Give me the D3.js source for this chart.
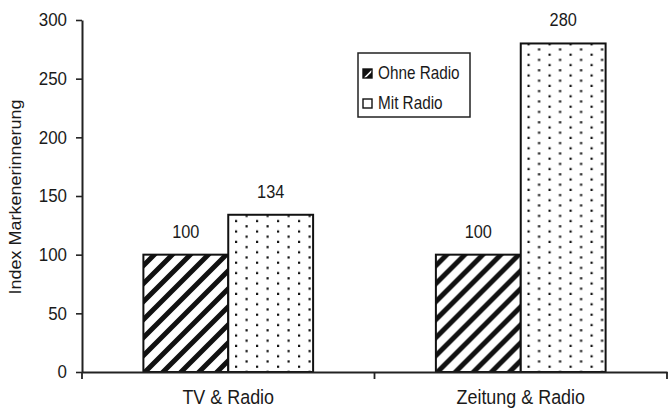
<!DOCTYPE html>
<html>
<head>
<meta charset="utf-8">
<script src="https://cdn.jsdelivr.net/npm/d3@7"></script>
<style>
  html, body { margin: 0; padding: 0; background: #fff; }
  svg text { font-family: "Liberation Sans", Arial, sans-serif; fill: #1a1a1a; }
</style>
</head>
<body>
<svg id="chart" width="668" height="417"></svg>
<script>
// Brand recall index, with and without radio in the media mix
const categories = ["TV & Radio", "Zeitung & Radio"];
const seriesNames = ["Ohne Radio", "Mit Radio"];
const ohneRadio = [100, 100];
const mitRadio = [134, 280];
const yTicks = [0, 50, 100, 150, 200, 250, 300];
const yTitle = "Index Markenerinnerung";

const seriesValues = [ohneRadio, mitRadio];
const fills = ["url(#hatch)", "url(#dots)"];

const svg = d3.select("#chart");
const defs = svg.append("defs");

// diagonal hatching
const hatch = defs.append("pattern")
  .attr("id", "hatch").attr("patternUnits", "userSpaceOnUse")
  .attr("width", 18).attr("height", 18).attr("x", 1).attr("y", 2);
hatch.append("rect").attr("width", 18).attr("height", 18).attr("fill", "#fff");
hatch.append("path")
  .attr("d", "M-4.5,4.5L4.5,-4.5M0,18L18,0M13.5,22.5L22.5,13.5")
  .attr("stroke", "#111").attr("stroke-width", 5);

const hatchSmall = defs.append("pattern")
  .attr("id", "hatchSmall").attr("patternUnits", "userSpaceOnUse")
  .attr("width", 9).attr("height", 9).attr("x", 363).attr("y", 69);
hatchSmall.append("rect").attr("width", 9).attr("height", 9).attr("fill", "#111");
hatchSmall.append("path").attr("d", "M1.5,9L9,1.5").attr("stroke", "#fff").attr("stroke-width", 1.6);

// staggered dot screen
const dots = defs.append("pattern")
  .attr("id", "dots").attr("patternUnits", "userSpaceOnUse")
  .attr("width", 21).attr("height", 10.4).attr("x", 233).attr("y", 0);
dots.append("rect").attr("width", 21).attr("height", 10.4).attr("fill", "#fff");
dots.append("rect").attr("x", 4).attr("y", 1.6).attr("width", 2.2).attr("height", 2.2).attr("fill", "#111");
dots.append("rect").attr("x", 14.5).attr("y", 6.8).attr("width", 2.2).attr("height", 2.2).attr("fill", "#111");

const x0 = d3.scaleBand().domain(categories).range([82, 667]).paddingInner(0).paddingOuter(0);
const x1 = d3.scaleBand().domain(seriesNames).range([0, x0.bandwidth()])
  .paddingInner(0).paddingOuter(0.7235);
const y = d3.scaleLinear().domain([0, 300]).range([372, 20]);

// bars
const groups = svg.append("g").selectAll("g")
  .data(categories).join("g")
  .attr("transform", d => `translate(${x0(d)},0)`);

const barData = (c, ci) => seriesNames.map((s, si) => ({ s, si, v: seriesValues[si][ci] }));

groups.selectAll("rect")
  .data(barData)
  .join("rect")
  .attr("x", d => x1(d.s))
  .attr("y", d => y(d.v))
  .attr("width", x1.bandwidth())
  .attr("height", d => y(0) - y(d.v))
  .attr("fill", d => fills[d.si])
  .attr("stroke", "#111").attr("stroke-width", 2);

// value labels (condensed type)
groups.selectAll("text.val")
  .data(barData)
  .join("text").attr("class", "val")
  .attr("transform", d => `translate(${x1(d.s) + x1.bandwidth() / 2},${y(d.v) - 17}) scale(0.86,1)`)
  .attr("text-anchor", "middle")
  .style("font-size", "19px")
  .text(d => d.v);

// y axis
const yAxis = svg.append("g").attr("transform", "translate(82,0)")
  .call(d3.axisLeft(y).tickValues(yTicks).tickSize(6).tickSizeOuter(0).tickPadding(9));
yAxis.select(".domain").attr("stroke", "#222").attr("stroke-width", 2);
yAxis.selectAll(".tick line").attr("stroke", "#222").attr("stroke-width", 1.6);
yAxis.selectAll(".tick text").style("font-size", "18px")
  .attr("transform", "translate(-15,0) scale(0.94,1)").attr("x", 0);

// x axis
const xAxis = svg.append("g").attr("transform", "translate(0,372)")
  .call(d3.axisBottom(x0).tickSize(0).tickSizeOuter(0).tickPadding(18));
xAxis.select(".domain").attr("stroke", "#222").attr("stroke-width", 2);
xAxis.selectAll(".tick text").style("font-size", "19.5px")
  .attr("transform", "scale(0.92,1)");
const bounds = categories.map(c => x0(c)).concat([x0.range()[1]]);
xAxis.selectAll("line.bound").data(bounds).join("line").attr("class", "bound")
  .attr("x1", d => d).attr("x2", d => d).attr("y1", 0).attr("y2", 7)
  .attr("stroke", "#222").attr("stroke-width", 1.8);

// y title
svg.append("text")
  .attr("transform", "translate(21,197) rotate(-90) scale(1,0.9)")
  .attr("text-anchor", "middle")
  .style("font-size", "18px")
  .text(yTitle);

// legend
const legend = svg.append("g");
legend.append("rect").attr("x", 358).attr("y", 53).attr("width", 112).attr("height", 64)
  .attr("fill", "#fff").attr("stroke", "#222").attr("stroke-width", 1.5);
const legendFills = ["url(#hatchSmall)", "#fff"];
seriesNames.forEach((s, i) => {
  const yy = 69 + i * 30;
  legend.append("rect").attr("x", 363).attr("y", yy).attr("width", 9).attr("height", 9)
    .attr("fill", legendFills[i]).attr("stroke", "#111").attr("stroke-width", 1.4);
  legend.append("text")
    .attr("transform", `translate(378,${yy + 9.5}) scale(0.85,1)`)
    .style("font-size", "18px").text(s);
});
</script>
</body>
</html>
